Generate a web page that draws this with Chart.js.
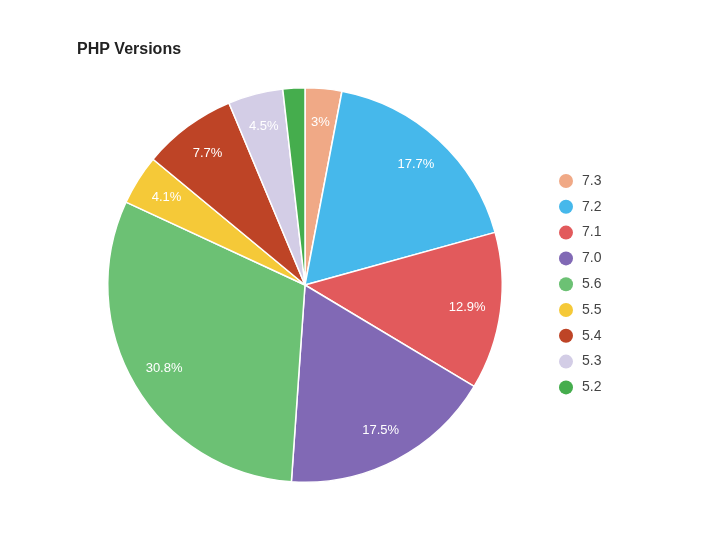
<!DOCTYPE html>
<html><head><meta charset="utf-8">
<script src="https://cdn.jsdelivr.net/npm/chart.js@4/dist/chart.umd.min.js"></script>
<style>html,body{margin:0;padding:0;background:#fff}#w{width:704px;height:543px;position:relative}</style>
</head><body><div id="w"><canvas id="c"></canvas></div>
<script>
const categories = ["7.3","7.2","7.1","7.0","5.6","5.5","5.4","5.3","5.2"];
const values = [3, 17.7, 12.9, 17.5, 30.8, 4.1, 7.7, 4.5, 1.8];
const valueLabels = ["3%","17.7%","12.9%","17.5%","30.8%","4.1%","7.7%","4.5%",""];
const colors = ["#F0A986","#46B8EB","#E25A5C","#8169B5","#6CC174","#F5C938","#BE4426","#D3CDE6","#45AD4D"];
const titleText = "PHP Versions";
const font = "Helvetica, Arial, 'Liberation Sans', sans-serif";

const extras = {
  id: "extras",
  afterDatasetsDraw(chart) {
    const ctx = chart.ctx;
    const meta = chart.getDatasetMeta(0);
    ctx.save();
    ctx.fillStyle = "#fff";
    ctx.font = "13px " + font;
    ctx.textAlign = "center"; ctx.textBaseline = "middle";
    meta.data.forEach((arc, i) => {
      if (!valueLabels[i]) return;
      const mid = (arc.startAngle + arc.endAngle) / 2;
      const r = arc.outerRadius * 0.83;
      ctx.fillText(valueLabels[i], arc.x + Math.cos(mid) * r, arc.y + Math.sin(mid) * r);
    });
    ctx.fillStyle = "#222";
    ctx.font = "bold 16px " + font;
    ctx.textAlign = "left";
    ctx.fillText(titleText, 77, 50);
    ctx.font = "14px " + font;
    categories.forEach((c, i) => {
      const y = 181 + i * 25.8;
      ctx.fillStyle = colors[i];
      ctx.beginPath(); ctx.arc(566, y, 7, 0, Math.PI * 2); ctx.fill();
      ctx.fillStyle = "#444";
      ctx.fillText(c, 582, y);
    });
    ctx.restore();
  }
};

new Chart(document.getElementById("c"), {
  type: "pie",
  data: { labels: categories, datasets: [{ data: values, backgroundColor: colors, borderColor: "#fff", borderWidth: 1.5 }] },
  options: {
    responsive: true, maintainAspectRatio: false, animation: false,
    layout: { padding: { left: 107, right: 201, top: 87, bottom: 60 } },
    plugins: { legend: { display: false }, tooltip: { enabled: false } }
  },
  plugins: [extras]
});
</script></body></html>
